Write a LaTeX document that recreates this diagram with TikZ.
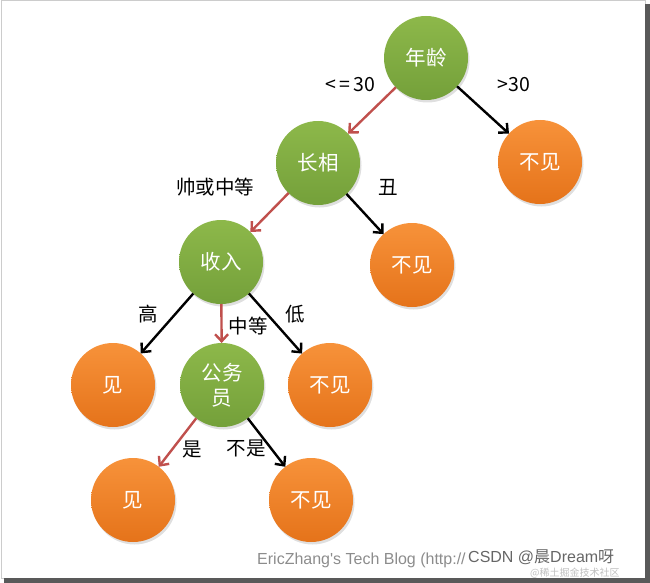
\documentclass[tikz,border=0pt]{standalone}
\usepackage{fontspec}
\setmainfont{Noto Sans CJK SC}
\newfontfamily\wmfont{Liberation Sans}
\usetikzlibrary{arrows.meta, shadows}
\definecolor{leafgreen}{HTML}{8DB84A}
\definecolor{leafgreendk}{HTML}{74A03A}
\definecolor{fruitorange}{HTML}{F7923A}
\definecolor{fruitorangedk}{HTML}{E5731A}
\definecolor{pathred}{HTML}{C0504D}

\begin{document}
\begin{tikzpicture}[x=1pt, y=-1pt,
    attr/.style={circle, minimum size=84pt, inner sep=0pt, outer sep=0pt,
      top color=leafgreen, bottom color=leafgreendk, text=white,
      font=\fontsize{20.5}{22}\selectfont,
      drop shadow={opacity=0.25, shadow xshift=1.5pt, shadow yshift=-2.5pt}},
    leaf/.style={attr, top color=fruitorange, bottom color=fruitorangedk},
    branch/.style={line width=2.4pt, -{Straight Barb[length=7pt, width=13pt]}},
    pick/.style={branch, pathred},
    cond/.style={font=\fontsize{19.5}{21}\selectfont}
  ]
    \useasboundingbox (0,0) rectangle (650,583);
    % frame
    \draw[black!20, line width=1pt] (1,1) rectangle (645,578);
    \fill[black!65] (645,4) rectangle (650,583);
    \fill[black!65] (4,578) rectangle (650,583);

    \node[attr] (age) at (426,58) {年龄};
    \node[attr] (looks) at (318,163) {长相};
    \node[leaf] (oldno) at (540,162) {不见};
    \node[attr] (income) at (221,262) {收入};
    \node[leaf] (uglyno) at (412,265) {不见};
    \node[leaf] (highyes) at (113,385) {见};
    \node[attr, align=center, font=\fontsize{20.5}{25}\selectfont] (civil) at (222,385) {公务\\员};
    \node[leaf] (lowno) at (330,385) {不见};
    \node[leaf] (civilyes) at (133,500) {见};
    \node[leaf] (civilno) at (311,500) {不见};

    \draw[pick] (age) -- (looks);
    \draw[branch] (age) -- (oldno);
    \draw[pick] (looks) -- (income);
    \draw[branch] (looks) -- (uglyno);
    \draw[branch] (income) -- (highyes);
    \draw[pick] (income) -- (civil);
    \draw[branch] (income) -- (lowno);
    \draw[pick] (civil) -- (civilyes);
    \draw[branch] (civil) -- (civilno);

    \node[cond] (le) at (350,85) {<\,=\,30};
    \node[cond] (gt) at (514,85) {>30};
    \node[cond] (fair) at (215,187) {帅或中等};
    \node[cond] (ugly) at (388,187) {丑};
    \node[cond] (high) at (148,314) {高};
    \node[cond] (mid) at (248,326) {中等};
    \node[cond] (low) at (295,314) {低};
    \node[cond] (yes) at (192,449) {是};
    \node[cond] (notyes) at (246,448) {不是};

    % watermarks
    \node[anchor=west, inner sep=0pt, text=black!45, font=\wmfont\fontsize{16}{18}\selectfont] (blog) at (257,560) {EricZhang\textquotesingle s Tech Blog (http://};
    \node[anchor=west, inner sep=0pt, text=black!60, font=\fontsize{16}{18}\selectfont] (csdn) at (468,557) {{\wmfont CSDN @}晨{\wmfont Dream}呀};
    \node[anchor=west, inner sep=0pt, text=black!25, font=\fontsize{10}{11}\selectfont] (juejin) at (530,573) {@稀土掘金技术社区};
\end{tikzpicture}
\end{document}
